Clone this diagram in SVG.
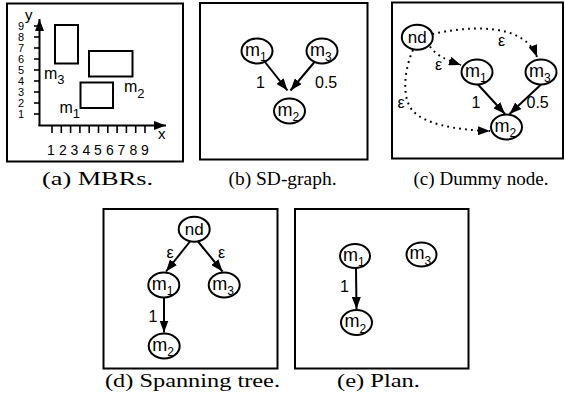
<svg xmlns="http://www.w3.org/2000/svg" width="565" height="409" viewBox="0 0 565 409">
  <style>
    .frame { fill: none; stroke: #000; stroke-width: 2; }
    .mbr { fill: none; stroke: #000; stroke-width: 2; }
    .axis { fill: none; stroke: #000; stroke-width: 2; }
    .tick { stroke: #000; stroke-width: 1.6; }
    .node ellipse { fill: #fff; stroke: #000; stroke-width: 2; }
    .edge { fill: none; stroke: #000; stroke-width: 2; marker-end: url(#arrow); }
    .dot { fill: none; stroke: #000; stroke-width: 2; stroke-dasharray: 1.8 4.2; marker-end: url(#arrow); }
    .lbl { font-family: "Liberation Sans", Arial, sans-serif; font-size: 18px; fill: #000; }
    .sub { font-size: 12px; }
    .num { font-family: "Liberation Sans", Arial, sans-serif; font-size: 16px; fill: #000; }
    .ax { font-family: "Liberation Sans", Arial, sans-serif; font-size: 14px; fill: #000; text-anchor: middle; }
    .axy { font-family: "Liberation Sans", Arial, sans-serif; font-size: 11px; fill: #000; text-anchor: middle; }
    .cap { font-family: "Liberation Serif", "Times New Roman", serif; font-size: 19px; fill: #000; }
  </style>
  <defs>
    <marker id="arrow" markerUnits="userSpaceOnUse" markerWidth="12" markerHeight="9" refX="12" refY="4.5" orient="auto">
      <path d="M0,0 L12,4.5 L0,9 z" fill="#000"/>
    </marker>
  </defs>

  <rect width="565" height="409" fill="#fff"/>

  <!-- (a) MBRs -->
  <g id="panel-a">
    <rect class="frame" x="7" y="3.5" width="176" height="158"/>
    <line class="axis" x1="39.5" y1="126" x2="39.5" y2="19" marker-end="url(#arrow)"/>
    <line class="axis" x1="38.5" y1="125.5" x2="166" y2="125.5" marker-end="url(#arrow)"/>
    <text class="lbl" x="25" y="20" style="font-size:15px">y</text>
    <text class="lbl" x="158" y="139" style="font-size:15px">x</text>
    <g id="y-ticks">
      <line class="tick" x1="34" y1="26" x2="39" y2="26"/>
      <line class="tick" x1="34" y1="37" x2="39" y2="37"/>
      <line class="tick" x1="34" y1="48" x2="39" y2="48"/>
      <line class="tick" x1="34" y1="59" x2="39" y2="59"/>
      <line class="tick" x1="34" y1="70" x2="39" y2="70"/>
      <line class="tick" x1="34" y1="81" x2="39" y2="81"/>
      <line class="tick" x1="34" y1="92" x2="39" y2="92"/>
      <line class="tick" x1="34" y1="103" x2="39" y2="103"/>
      <line class="tick" x1="34" y1="114" x2="39" y2="114"/>
    </g>
    <g id="y-labels">
      <text class="axy" x="21" y="30">9</text>
      <text class="axy" x="21" y="41">8</text>
      <text class="axy" x="21" y="52">7</text>
      <text class="axy" x="21" y="63">6</text>
      <text class="axy" x="21" y="74">5</text>
      <text class="axy" x="21" y="85">4</text>
      <text class="axy" x="21" y="96">3</text>
      <text class="axy" x="21" y="107">2</text>
      <text class="axy" x="21" y="118">1</text>
    </g>
    <g id="x-ticks">
      <line class="tick" x1="52" y1="126" x2="52" y2="133"/>
      <line class="tick" x1="61.3" y1="126" x2="61.3" y2="133"/>
      <line class="tick" x1="70.6" y1="126" x2="70.6" y2="133"/>
      <line class="tick" x1="79.9" y1="126" x2="79.9" y2="133"/>
      <line class="tick" x1="89.2" y1="126" x2="89.2" y2="133"/>
      <line class="tick" x1="98.5" y1="126" x2="98.5" y2="133"/>
      <line class="tick" x1="107.8" y1="126" x2="107.8" y2="133"/>
      <line class="tick" x1="117.1" y1="126" x2="117.1" y2="133"/>
      <line class="tick" x1="126.4" y1="126" x2="126.4" y2="133"/>
      <line class="tick" x1="135.7" y1="126" x2="135.7" y2="133"/>
      <line class="tick" x1="145" y1="126" x2="145" y2="133"/>
    </g>
    <g id="x-labels">
      <text class="ax" x="51" y="155">1</text>
      <text class="ax" x="62.8" y="155">2</text>
      <text class="ax" x="74.5" y="155">3</text>
      <text class="ax" x="86.3" y="155">4</text>
      <text class="ax" x="98" y="155">5</text>
      <text class="ax" x="109.8" y="155">6</text>
      <text class="ax" x="121.5" y="155">7</text>
      <text class="ax" x="133.3" y="155">8</text>
      <text class="ax" x="145" y="155">9</text>
    </g>
    <g id="mbr-m3">
      <rect class="mbr" x="55" y="25" width="23" height="38.5"/>
      <text class="lbl" x="44" y="78.5" style="font-size:16px">m<tspan class="sub" dy="5" style="font-size:13px">3</tspan></text>
    </g>
    <g id="mbr-m2">
      <rect class="mbr" x="89" y="51" width="43.5" height="25.5"/>
      <text class="lbl" x="124" y="92" style="font-size:16px">m<tspan class="sub" dy="5.5" style="font-size:13px">2</tspan></text>
    </g>
    <g id="mbr-m1">
      <rect class="mbr" x="80.5" y="82.5" width="32.5" height="25.5"/>
      <text class="lbl" x="59.5" y="112.5" style="font-size:16px">m<tspan class="sub" dy="5" style="font-size:13px">1</tspan></text>
    </g>
    <text class="cap" x="42" y="185" textLength="111" lengthAdjust="spacingAndGlyphs">(a) MBRs.</text>
  </g>

  <!-- (b) SD-graph -->
  <g id="panel-b">
    <rect class="frame" x="200" y="3" width="167.5" height="156.5"/>
    <g id="b-edges">
      <line class="edge" x1="265" y1="62" x2="287.5" y2="90.5"/>
      <line class="edge" x1="314.5" y1="62" x2="290.5" y2="90.5"/>
      <text class="num" x="256" y="87.5">1</text>
      <text class="num" x="315" y="87.5">0.5</text>
    </g>
    <g id="b-m1" class="node">
      <ellipse cx="257" cy="51" rx="15.5" ry="12.5"/>
      <text class="lbl" x="245" y="55.5">m<tspan class="sub" dy="5.5">1</tspan></text>
    </g>
    <g id="b-m3" class="node">
      <ellipse cx="322" cy="51" rx="15.5" ry="12.5"/>
      <text class="lbl" x="310" y="55.5">m<tspan class="sub" dy="5.5">3</tspan></text>
    </g>
    <g id="b-m2" class="node">
      <ellipse cx="289.5" cy="111" rx="15.5" ry="12.5"/>
      <text class="lbl" x="277.5" y="115.5">m<tspan class="sub" dy="5.5">2</tspan></text>
    </g>
    <text class="cap" x="228.5" y="185" textLength="108" lengthAdjust="spacingAndGlyphs">(b) SD-graph.</text>
  </g>

  <!-- (c) Dummy node -->
  <g id="panel-c">
    <rect class="frame" x="392" y="2.5" width="171" height="156"/>
    <g id="c-edges">
      <path class="dot" d="M432.5,34 C468,26 524,22 537,57"/>
      <path class="dot" d="M430,46.5 C436,55 444,59 461,65"/>
      <path class="dot" d="M413,50 C404,70 401,100 414,112 C425,123 452,130 490,131"/>
      <line class="edge" x1="478" y1="84.5" x2="505" y2="114"/>
      <line class="edge" x1="541" y1="84.5" x2="509.5" y2="114"/>
      <text class="num" x="498" y="46">ε</text>
      <text class="num" x="435" y="70">ε</text>
      <text class="num" x="397.5" y="107.5">ε</text>
      <text class="num" x="471.5" y="108">1</text>
      <text class="num" x="526.5" y="108">0.5</text>
    </g>
    <g id="c-nd" class="node">
      <ellipse cx="417.3" cy="37.2" rx="15.5" ry="12.5"/>
      <text class="lbl" x="417.3" y="43" text-anchor="middle" style="font-size:17px">nd</text>
    </g>
    <g id="c-m1" class="node">
      <ellipse cx="477" cy="72" rx="15.5" ry="12.5"/>
      <text class="lbl" x="465" y="76.5">m<tspan class="sub" dy="5.5">1</tspan></text>
    </g>
    <g id="c-m3" class="node">
      <ellipse cx="541" cy="72" rx="15.5" ry="12.5"/>
      <text class="lbl" x="529" y="76.5">m<tspan class="sub" dy="5.5">3</tspan></text>
    </g>
    <g id="c-m2" class="node">
      <ellipse cx="506.5" cy="127" rx="15.5" ry="12.5"/>
      <text class="lbl" x="494.5" y="131.5">m<tspan class="sub" dy="5.5">2</tspan></text>
    </g>
    <text class="cap" x="413.5" y="185" textLength="135" lengthAdjust="spacingAndGlyphs">(c) Dummy node.</text>
  </g>

  <!-- (d) Spanning tree -->
  <g id="panel-d">
    <rect class="frame" x="103.5" y="209" width="174" height="159.5"/>
    <g id="d-edges">
      <line class="edge" x1="190" y1="241.5" x2="166" y2="271.5"/>
      <line class="edge" x1="198" y1="241.5" x2="222.5" y2="271.5"/>
      <line class="edge" x1="164" y1="297.5" x2="164" y2="332.5"/>
      <text class="num" x="166.5" y="258">ε</text>
      <text class="num" x="218" y="258">ε</text>
      <text class="num" x="148.5" y="321.5">1</text>
    </g>
    <g id="d-nd" class="node">
      <ellipse cx="194.2" cy="229.2" rx="15.5" ry="12.5"/>
      <text class="lbl" x="194.2" y="235" text-anchor="middle" style="font-size:17px">nd</text>
    </g>
    <g id="d-m1" class="node">
      <ellipse cx="163.8" cy="285" rx="15.5" ry="12.5"/>
      <text class="lbl" x="151.8" y="289.5">m<tspan class="sub" dy="5.5">1</tspan></text>
    </g>
    <g id="d-m3" class="node">
      <ellipse cx="224.2" cy="285" rx="15.5" ry="12.5"/>
      <text class="lbl" x="212.2" y="289.5">m<tspan class="sub" dy="5.5">3</tspan></text>
    </g>
    <g id="d-m2" class="node">
      <ellipse cx="164.2" cy="346" rx="15.5" ry="12.5"/>
      <text class="lbl" x="152.2" y="350.5">m<tspan class="sub" dy="5.5">2</tspan></text>
    </g>
    <text class="cap" x="105" y="386.5" textLength="175" lengthAdjust="spacingAndGlyphs">(d) Spanning tree.</text>
  </g>

  <!-- (e) Plan -->
  <g id="panel-e">
    <rect class="frame" x="295" y="209" width="173.5" height="159.5"/>
    <g id="e-edges">
      <line class="edge" x1="356" y1="268.5" x2="356.5" y2="309"/>
      <text class="num" x="340" y="291.5">1</text>
    </g>
    <g id="e-m1" class="node">
      <ellipse cx="355" cy="256" rx="15" ry="12"/>
      <text class="lbl" x="343" y="260.5">m<tspan class="sub" dy="5.5">1</tspan></text>
    </g>
    <g id="e-m3" class="node">
      <ellipse cx="421.5" cy="254.5" rx="15" ry="12"/>
      <text class="lbl" x="409.5" y="259">m<tspan class="sub" dy="5.5">3</tspan></text>
    </g>
    <g id="e-m2" class="node">
      <ellipse cx="356.5" cy="322.5" rx="15.5" ry="12.5"/>
      <text class="lbl" x="344.5" y="327">m<tspan class="sub" dy="5.5">2</tspan></text>
    </g>
    <text class="cap" x="337" y="386.5" textLength="83" lengthAdjust="spacingAndGlyphs">(e) Plan.</text>
  </g>
</svg>
